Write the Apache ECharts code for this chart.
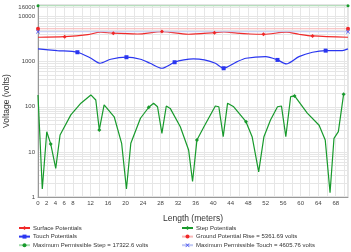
<!DOCTYPE html>
<html>
<head>
<meta charset="utf-8">
<script src="https://cdn.jsdelivr.net/npm/echarts@6/dist/echarts.min.js"></script>
<style>
  html, body { margin: 0; padding: 0; background: #fff; }
  #chart { width: 351px; height: 252px; }
</style>
</head>
<body>
<div id="chart"></div>
<script>
// length along the profile (m)
const xEnd = 70.8;

// surface potentials
const surfaceX = [0, 6.1, 11.4, 14.3, 17.2, 22.7, 28.3, 34.3, 40.3, 42.4, 45.5, 48.5, 51.5, 56.7, 59.6, 62.7, 70.8];
const surfaceV = [3475, 3584, 3970, 4487, 4266, 4100, 4627, 4050, 4394, 4550, 4266, 4100, 4047, 4487, 4047, 3715, 3475];
const surfaceMarks = [1, 4, 6, 8, 12, 15];

// touch potentials
const touchX = [0, 4.4, 9.0, 12.1, 14.2, 16.6, 20.2, 23.4, 25.6, 28.3, 31.2, 33.3, 35.5, 38.0, 40.5, 42.4, 45.5, 47.5, 52.0, 54.7, 56.7, 59.6, 62.7, 65.7, 69.5, 70.8];
const touchV = [1914, 1754, 1615, 1189, 922, 1130, 1253, 1130, 922, 714, 970, 1091, 1148, 1091, 922, 714, 1000, 1189, 1291, 1091, 889, 1291, 1615, 1754, 1754, 1914];
const touchMarks = [2, 6, 10, 15, 19, 23];

// step potentials
const stepX = [0, 0.98, 2.0, 2.9, 4.05, 5.04, 7.5, 9.8, 12.07, 13.2, 14.0, 15.1, 17.4, 19.1, 20.2, 21.2, 23.4, 25.3, 26.4, 27.3,
  28.3, 29.3, 30.2, 32.5, 34.4, 35.3, 36.3, 37.9, 40.5, 41.3, 42.3, 43.3, 44.7, 47.5, 48.9, 50.4, 51.6, 53.1, 54.7, 55.6,
  56.6, 57.7, 58.6, 61.5, 64.2, 65.6, 66.7, 67.6, 68.6, 69.8];
const stepV = [183, 1.5, 28, 15, 4.3, 23.7, 66, 120, 183, 141, 30.6, 110, 60, 15.5, 1.5, 15.5, 55.6, 97.5, 120, 100,
  25.8, 104, 92, 36, 11, 2.2, 18.4, 36, 104, 100, 21.7, 120, 100, 46.7, 21.7, 3.6, 21.7, 51, 100, 104,
  21.7, 167, 174, 72, 39, 18.4, 1.25, 20, 28, 190];
const stepMarks = [3, 10, 17, 26, 33, 42, 49];

// limits
const groundRise = 5361.69;
const maxStep = 17322.6;
const maxTouch = 4605.76;

// axis ticks
const yLabels = [1, 10, 100, 1000, 10000, 16000];
const yGrid = [];
[1, 10, 100, 1000].forEach(d => { for (let k = 1; k < 10; k++) yGrid.push(d * k); });
yGrid.push(10000, 16000);

const nameSurface = 'Surface Potentials';
const nameStep = 'Step Potentials';
const nameTouch = 'Touch Potentials';
const nameRise = `Ground Potential Rise = ${groundRise} volts`;
const nameMaxStep = `Maximum Permissible Step = ${maxStep} volts`;
const nameMaxTouch = `Maximum Permissible Touch = ${maxTouch} volts`;

const font = 'Liberation Sans, Arial, sans-serif';

function points(xs, vs, marks) {
  return xs.map((x, i) => ({
    value: [x, vs[i]],
    symbol: marks.includes(i) ? undefined : 'none'
  }));
}

const chart = echarts.init(document.getElementById('chart'));

const legendBase = {
  orient: 'vertical',
  top: 225,
  itemWidth: 11,
  itemHeight: 5,
  itemGap: 2.6,
  textStyle: { fontSize: 6, color: '#333', fontFamily: font, padding: [0, 0, 0, -2] },
  padding: 0
};

const option = {
  animation: false,
  textStyle: { fontFamily: font },
  grid: {
    left: 38, right: 3, top: 5, bottom: 55,
    outerBoundsMode: 'none',
    show: true, borderColor: '#c8c8c8', borderWidth: 1
  },
  legend: [
    Object.assign({ left: 18, data: [nameSurface, nameTouch, nameMaxStep] }, legendBase),
    Object.assign({ left: 181, data: [nameStep, nameRise, nameMaxTouch] }, legendBase)
  ],
  xAxis: {
    type: 'value',
    min: 0,
    max: xEnd,
    interval: 2,
    name: 'Length (meters)',
    nameLocation: 'middle',
    nameGap: 17,
    nameTextStyle: { fontSize: 8.5, color: '#333' },
    axisLine: { lineStyle: { color: '#999' } },
    axisTick: { show: false },
    axisLabel: {
      fontSize: 6, color: '#444', margin: 3,
      showMaxLabel: false,
      formatter: v => (v <= 8 || v % 4 === 0) ? String(v) : ''
    },
    splitLine: { lineStyle: { color: '#e6e6e6', width: 1 } }
  },
  yAxis: {
    type: 'log',
    logBase: 10,
    min: 1,
    max: 18000,
    name: 'Voltage (volts)',
    nameLocation: 'middle',
    nameGap: 27,
    nameMoveOverlap: false,
    nameTextStyle: { fontSize: 8.5, color: '#333' },
    axisLine: { show: true, lineStyle: { color: '#999' } },
    axisTick: { show: false, customValues: yGrid },
    axisLabel: {
      fontSize: 6, color: '#444', margin: 3,
      customValues: yLabels,
      formatter: v => String(Math.round(v))
    },
    splitLine: { lineStyle: { color: '#e6e6e6', width: 1 } }
  },
  series: [
    {
      name: nameSurface,
      type: 'line',
      smooth: 0.3,
      symbol: 'diamond',
      symbolSize: 4,
      showAllSymbol: true,
      color: '#f02828',
      lineStyle: { width: 1.2 },
      data: points(surfaceX, surfaceV, surfaceMarks)
    },
    {
      name: nameStep,
      type: 'line',
      symbol: 'diamond',
      symbolSize: 4,
      showAllSymbol: true,
      color: '#189a2c',
      lineStyle: { width: 1.2 },
      data: points(stepX, stepV, stepMarks)
    },
    {
      name: nameTouch,
      type: 'line',
      smooth: 0.25,
      symbol: 'rect',
      symbolSize: 4,
      showAllSymbol: true,
      color: '#2a36f0',
      lineStyle: { width: 1.2 },
      data: points(touchX, touchV, touchMarks)
    },
    {
      name: nameRise,
      type: 'line',
      symbol: 'circle',
      symbolSize: 4,
      color: '#f02828',
      lineStyle: { width: 1, color: '#f7b8b8' },
      data: [[0, groundRise], [xEnd, groundRise]]
    },
    {
      name: nameMaxStep,
      type: 'line',
      symbol: 'circle',
      symbolSize: 3,
      color: '#189a2c',
      lineStyle: { width: 1, color: '#a8dcb0' },
      data: [[0, maxStep], [xEnd, maxStep]]
    },
    {
      name: nameMaxTouch,
      type: 'line',
      symbol: 'path://M0,1L1,0L5,4L9,0L10,1L6,5L10,9L9,10L5,6L1,10L0,9L4,5Z',
      symbolSize: 4,
      color: '#2a36f0',
      lineStyle: { width: 1, color: '#c0c8f4' },
      data: [[0, maxTouch], [xEnd, maxTouch]]
    }
  ]
};

chart.setOption(option);
</script>
</body>
</html>
